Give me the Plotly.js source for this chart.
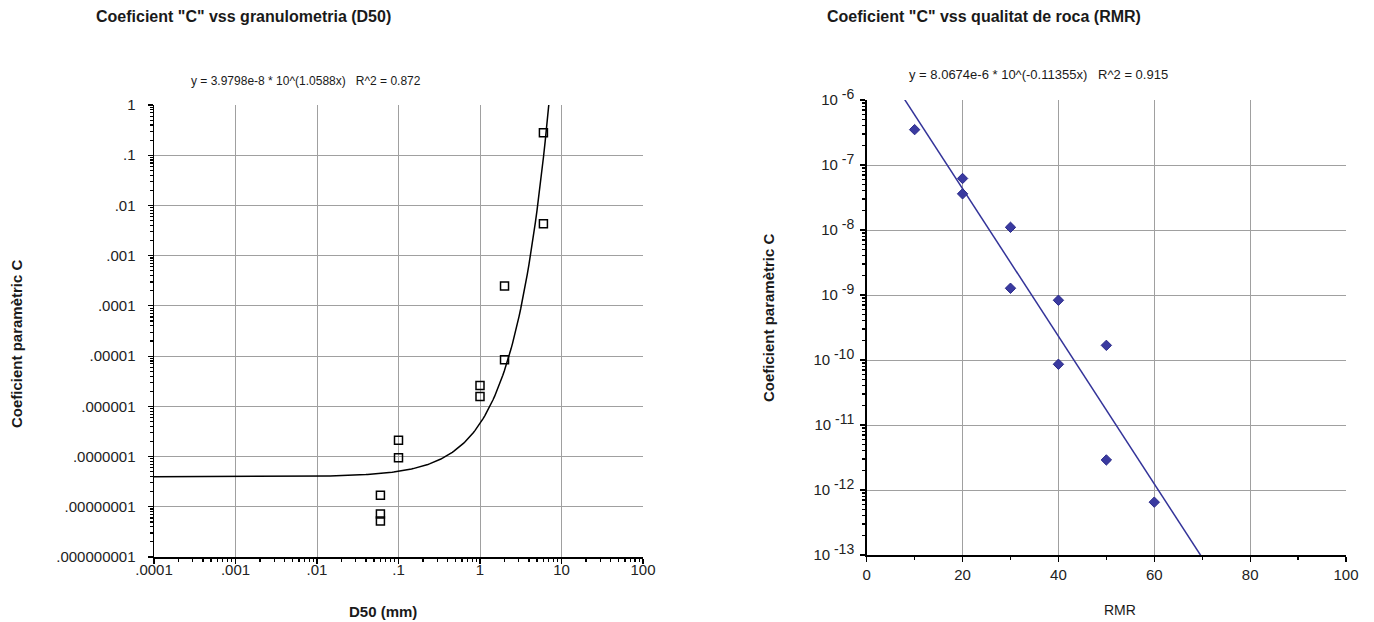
<!DOCTYPE html>
<html>
<head>
<meta charset="utf-8">
<script src="https://cdn.plot.ly/plotly-3.0.1.min.js"></script>
<style>html,body{margin:0;padding:0;background:#fff;}#chart{width:1374px;height:622px;}</style>
</head>
<body>
<div id="chart"></div>
<script>
// ---- Left chart: C vs D50 ----
const d50Values = [6, 6, 2, 2, 1, 1, 0.1, 0.1, 0.06, 0.06, 0.06];
const cD50Values = [0.28, 0.0043, 0.00025, 8.5e-6, 2.6e-6, 1.57e-6, 2.1e-7, 9.5e-8, 1.7e-8, 7.2e-9, 5.2e-9];
const fitD50A = 3.9798e-8;   // from the equation shown on the chart
const fitD50B = 1.0588;
const d50TickVals = [0.0001, 0.001, 0.01, 0.1, 1, 10, 100];
const d50TickText = ['.0001', '.001', '.01', '.1', '1', '10', '100'];
const cTickValsL = [1e-9, 1e-8, 1e-7, 1e-6, 1e-5, 1e-4, 1e-3, 1e-2, 1e-1, 1];
const cTickTextL = ['.000000001', '.00000001', '.0000001', '.000001', '.00001', '.0001', '.001', '.01', '.1', '1'];

// ---- Right chart: C vs RMR ----
const rmrValues = [10, 20, 20, 30, 30, 40, 50, 40, 50, 60];
const cRmrValues = [3.5e-7, 6.2e-8, 3.6e-8, 1.1e-8, 1.27e-9, 8.3e-10, 1.68e-10, 8.6e-11, 2.9e-12, 6.5e-13];
const fitRmrA = 8.0674e-6;   // from the equation shown on the chart
const fitRmrB = -0.11355;
const cTickValsR = [1e-13, 1e-12, 1e-11, 1e-10, 1e-9, 1e-8, 1e-7, 1e-6];
const cExpR = ['-13', '-12', '-11', '-10', '-9', '-8', '-7', '-6'];
const cTickTextR = cExpR.map(e => '10<sup><span style="font-size:14px"> ' + e + '</span></sup>');

// trend curve of the left chart (evaluated along the axis)
const fitD50X = [];
for (let e = -4; e <= Math.log10(7.2) + 1e-9; e += 0.02) fitD50X.push(Math.pow(10, e));
fitD50X.push(7.2);
const fitD50Y = fitD50X.map(x => fitD50A * Math.pow(10, fitD50B * x));
const fitRmrX = [0, 100];
const fitRmrY = fitRmrX.map(x => fitRmrA * Math.pow(10, fitRmrB * x));

// minor tick positions for log axes
function minorLog(lo, hi) {
  const v = [];
  for (let e = lo; e < hi; e++) for (let k = 2; k <= 9; k++) v.push(k * Math.pow(10, e));
  return v;
}

const W = 1374, H = 622;
const px = (a, b) => [a / W, b / W];
const py = (top, bottom) => [(H - bottom) / H, (H - top) / H];

const FONT = 'Liberation Sans, Arial, sans-serif';
const grid = '#a0a0a0';

const traces = [
  {x: fitD50X, y: fitD50Y, xaxis: 'x', yaxis: 'y', mode: 'lines', line: {color: '#000', width: 1.5}, hoverinfo: 'skip'},
  {x: d50Values, y: cD50Values, xaxis: 'x', yaxis: 'y', mode: 'markers',
   marker: {symbol: 'square-open', size: 8, color: '#000', line: {width: 1.5, color: '#000'}}},
  {x: fitRmrX, y: fitRmrY, xaxis: 'x2', yaxis: 'y2', mode: 'lines', line: {color: '#333399', width: 1.5}, hoverinfo: 'skip'},
  {x: rmrValues, y: cRmrValues, xaxis: 'x2', yaxis: 'y2', mode: 'markers',
   marker: {symbol: 'diamond', size: 8, color: '#3a3aa0', line: {width: 1, color: '#2a2a8a'}}}
];

const axBase = {showline: true, linecolor: '#000', linewidth: 1.5, gridcolor: grid, gridwidth: 1,
  ticks: 'outside', ticklen: 5, tickcolor: '#000', tickwidth: 1.2, zeroline: false,
  tickfont: {family: FONT, size: 15, color: '#222'}};

const layout = {
  width: W, height: H, margin: {l: 0, r: 0, t: 0, b: 0}, showlegend: false,
  paper_bgcolor: '#fff', plot_bgcolor: '#fff',
  xaxis: Object.assign({}, axBase, {type: 'log', domain: px(154, 643), range: [-4, 2], anchor: 'y',
    tickmode: 'array', tickvals: d50TickVals, ticktext: d50TickText, ticklabelstandoff: -7,
    minor: {tickmode: 'array', tickvals: minorLog(-4, 2), ticks: 'outside', ticklen: 3, tickcolor: '#000', showgrid: false}}),
  yaxis: Object.assign({}, axBase, {type: 'log', domain: py(105, 557), range: [-9, 0], anchor: 'x',
    tickmode: 'array', tickvals: cTickValsL, ticktext: cTickTextL, ticklabelstandoff: 9,
    minor: {tickmode: 'array', tickvals: minorLog(-9, 0), ticks: 'outside', ticklen: 3, tickcolor: '#000', showgrid: false}}),
  xaxis2: Object.assign({}, axBase, {type: 'linear', domain: px(866.7, 1346), range: [0, 100], anchor: 'y2',
    tickmode: 'linear', tick0: 0, dtick: 20,
    minor: {tickmode: 'linear', tick0: 0, dtick: 10, ticks: 'outside', ticklen: 3, tickcolor: '#000', showgrid: false}}),
  yaxis2: Object.assign({}, axBase, {type: 'log', domain: py(100, 555), range: [-13, -6], anchor: 'x2',
    tickmode: 'array', tickvals: cTickValsR, ticktext: cTickTextR, ticklabelstandoff: 3,
    tickfont: {family: FONT, size: 15, color: '#222'},
    minor: {tickmode: 'array', tickvals: minorLog(-13, -6), ticks: 'outside', ticklen: 3, tickcolor: '#000', showgrid: false}}),
  annotations: [
    {text: '<b>Coeficient "C" vss granulometria (D50)</b>', x: 244 / W, y: 1 - 17 / H, xref: 'paper', yref: 'paper',
     showarrow: false, font: {family: FONT, size: 16, color: '#1a1a1a'}, xanchor: 'center', yanchor: 'middle'},
    {text: 'y = 3.9798e-8 * 10^(1.0588x)   R^2 = 0.872', x: 306 / W, y: 1 - 81 / H, xref: 'paper', yref: 'paper',
     showarrow: false, font: {family: FONT, size: 12, color: '#1a1a1a'}, xanchor: 'center', yanchor: 'middle'},
    {text: '<b>Coeficient paramètric C</b>', x: 16 / W, y: 1 - 344 / H, xref: 'paper', yref: 'paper', textangle: -90,
     showarrow: false, font: {family: FONT, size: 15, color: '#1a1a1a'}, xanchor: 'center', yanchor: 'middle'},
    {text: '<b>D50 (mm)</b>', x: 383 / W, y: 1 - 611 / H, xref: 'paper', yref: 'paper',
     showarrow: false, font: {family: FONT, size: 15, color: '#1a1a1a'}, xanchor: 'center', yanchor: 'middle'},
    {text: '<b>Coeficient "C" vss qualitat de roca (RMR)</b>', x: 984 / W, y: 1 - 17 / H, xref: 'paper', yref: 'paper',
     showarrow: false, font: {family: FONT, size: 16, color: '#1a1a1a'}, xanchor: 'center', yanchor: 'middle'},
    {text: 'y = 8.0674e-6 * 10^(-0.11355x)   R^2 = 0.915', x: 1038 / W, y: 1 - 74 / H, xref: 'paper', yref: 'paper',
     showarrow: false, font: {family: FONT, size: 13, color: '#1a1a1a'}, xanchor: 'center', yanchor: 'middle'},
    {text: '<b>Coeficient paramètric C</b>', x: 768 / W, y: 1 - 318 / H, xref: 'paper', yref: 'paper', textangle: -90,
     showarrow: false, font: {family: FONT, size: 15, color: '#1a1a1a'}, xanchor: 'center', yanchor: 'middle'},
    {text: 'RMR', x: 1120 / W, y: 1 - 610 / H, xref: 'paper', yref: 'paper',
     showarrow: false, font: {family: FONT, size: 14, color: '#1a1a1a'}, xanchor: 'center', yanchor: 'middle'}
  ]
};

Plotly.newPlot('chart', traces, layout, {staticPlot: true, displayModeBar: false});
</script>
</body>
</html>
